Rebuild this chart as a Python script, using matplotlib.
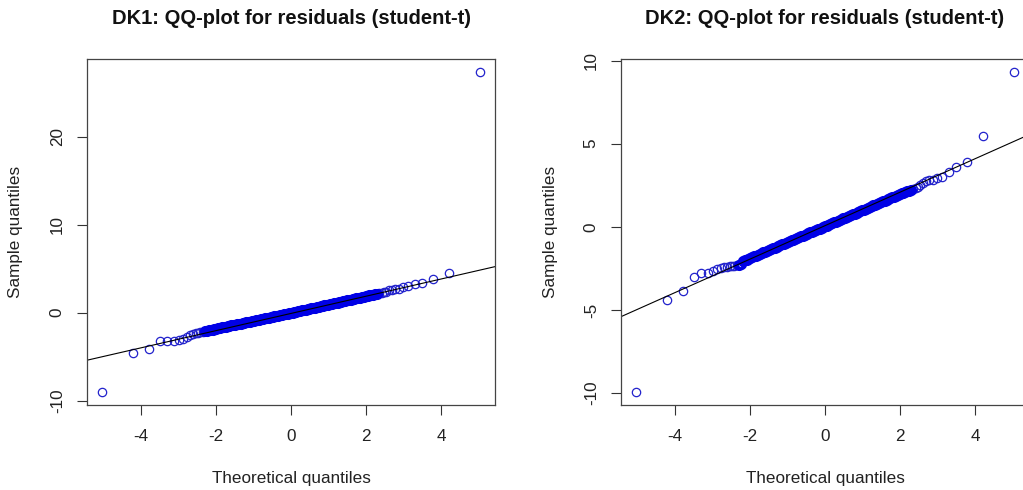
import numpy as np
import matplotlib
matplotlib.use("Agg")
import matplotlib.pyplot as plt

plt.rcParams['font.family'] = ['Liberation Sans', 'DejaVu Sans']
plt.rcParams['axes.unicode_minus'] = False

# theoretical quantiles (shared by both panels)
theo = [-5.03, -4.20, -3.78, -3.49, -3.29, -3.12, -2.99, -2.88, -2.78, -2.69,
        -2.61, -2.54, -2.47, -2.41, -2.35, -2.29, -2.24,
        -2.19, -2.14, -2.09, -2.04, -1.99, -1.94, -1.89, -1.84, -1.79, -1.74,
        -1.69, -1.64, -1.59, -1.54, -1.49, -1.44, -1.39, -1.34, -1.29, -1.24,
        -1.19, -1.14, -1.09, -1.04, -0.99, -0.94, -0.89, -0.84, -0.79, -0.74,
        -0.69, -0.64, -0.59, -0.54, -0.49, -0.44, -0.39, -0.34, -0.29, -0.24,
        -0.19, -0.14, -0.09, -0.04, 0.00,
        0.04, 0.09, 0.14, 0.19, 0.24, 0.29, 0.34, 0.39, 0.44, 0.49,
        0.54, 0.59, 0.64, 0.69, 0.74, 0.79, 0.84, 0.89, 0.94, 0.99,
        1.04, 1.09, 1.14, 1.19, 1.24, 1.29, 1.34, 1.39, 1.44, 1.49,
        1.54, 1.59, 1.64, 1.69, 1.74, 1.79, 1.84, 1.89, 1.94, 1.99,
        2.04, 2.09, 2.14, 2.19,
        2.24, 2.29, 2.35, 2.41, 2.47, 2.54, 2.61,
        2.69, 2.78, 2.88, 2.99, 3.12, 3.29, 3.49, 3.78, 4.20, 5.03]

# sample quantiles DK1
dk1 = [-9.05, -4.55, -4.17, -3.28, -3.24, -3.20, -3.07, -2.99, -2.80, -2.60,
       -2.42, -2.36, -2.30, -2.22, -2.17, -2.12, -2.07,
       -2.00, -1.96, -1.92, -1.86, -1.83, -1.77, -1.74, -1.68, -1.64, -1.60,
       -1.55, -1.51, -1.45, -1.42, -1.37, -1.33, -1.28, -1.24, -1.19, -1.15,
       -1.10, -1.06, -1.01, -0.97, -0.92, -0.88, -0.83, -0.79, -0.74, -0.70,
       -0.65, -0.61, -0.56, -0.52, -0.47, -0.43, -0.38, -0.34, -0.29, -0.25,
       -0.20, -0.16, -0.11, -0.07, -0.03,
       0.01, 0.06, 0.10, 0.15, 0.20, 0.25, 0.29, 0.34, 0.39, 0.44,
       0.48, 0.53, 0.58, 0.63, 0.67, 0.72, 0.77, 0.82, 0.86, 0.91,
       0.96, 1.01, 1.05, 1.10, 1.15, 1.20, 1.24, 1.29, 1.34, 1.39,
       1.43, 1.48, 1.53, 1.58, 1.62, 1.67, 1.72, 1.77, 1.81, 1.86,
       1.91, 1.96, 2.00, 2.05,
       2.09, 2.13, 2.18, 2.24, 2.30, 2.40, 2.52,
       2.58, 2.65, 2.72, 2.92, 3.07, 3.26, 3.37, 3.83, 4.51, 27.40]

# sample quantiles DK2
dk2 = [-9.94, -4.42, -3.84, -3.04, -2.80, -2.76, -2.64, -2.54, -2.50, -2.44,
       -2.40, -2.38, -2.36, -2.34, -2.31, -2.27, -2.21,
       -2.07, -2.02, -1.98, -1.93, -1.88, -1.83, -1.78, -1.74, -1.69, -1.64,
       -1.59, -1.54, -1.49, -1.45, -1.40, -1.35, -1.30, -1.25, -1.21, -1.16,
       -1.11, -1.06, -1.01, -0.96, -0.92, -0.87, -0.82, -0.77, -0.72, -0.67,
       -0.63, -0.58, -0.53, -0.48, -0.43, -0.38, -0.34, -0.29, -0.24, -0.19,
       -0.14, -0.10, -0.05, 0.00, 0.04,
       0.08, 0.13, 0.18, 0.22, 0.27, 0.32, 0.37, 0.42, 0.46, 0.51,
       0.56, 0.61, 0.66, 0.71, 0.75, 0.80, 0.85, 0.90, 0.95, 1.00,
       1.04, 1.09, 1.14, 1.19, 1.24, 1.29, 1.33, 1.38, 1.43, 1.48,
       1.53, 1.57, 1.62, 1.67, 1.72, 1.77, 1.82, 1.86, 1.91, 1.96,
       2.01, 2.06, 2.10, 2.15,
       2.18, 2.20, 2.26, 2.32, 2.40, 2.52, 2.66,
       2.76, 2.80, 2.83, 2.96, 3.02, 3.28, 3.58, 3.92, 5.46, 9.32]

# reference lines (intercept, slope)
line1 = (-0.09, 0.98)
line2 = (0.07, 1.007)

titles = ["DK1: QQ-plot for residuals (student-t)",
          "DK2: QQ-plot for residuals (student-t)"]
yticks = [[-10, 0, 10, 20], [-10, -5, 0, 5, 10]]
xticks = [-4, -2, 0, 2, 4]

W, H = 1023, 490
fig = plt.figure(figsize=(W / 100, H / 100), dpi=100)

panels = [(87, dk1, line1), (621, dk2, line2)]
for i, (left, samp, ln) in enumerate(panels):
    ax = fig.add_axes([left / W, (H - 405) / H, 408 / W, 346 / H])
    x = np.array(theo)
    y = np.array(samp)

    # the heavily overplotted middle looks like a solid band in the original
    dense = np.abs(x) < 2.3
    ax.plot(x[~dense], y[~dense], 'o', mfc='none', mec='#2222cc', mew=0.9,
            ms=6.0, ls='none')
    ax.plot(x[dense], y[dense], 'o', mfc='none', mec='#0000e6', mew=2.0,
            ms=6.0, ls='none')

    # R style 4% padding
    xr = x.max() - x.min()
    yr = y.max() - y.min()
    xlo, xhi = x.min() - 0.04 * xr, x.max() + 0.04 * xr
    ax.set_xlim(xlo, xhi)
    ax.set_ylim(y.min() - 0.04 * yr, y.max() + 0.04 * yr)

    xx = np.array([xlo, xhi])
    ax.plot(xx, ln[0] + ln[1] * xx, color='black', lw=0.8)

    ax.set_xticks(xticks)
    ax.set_yticks(yticks[i])
    ax.set_yticklabels([str(t) for t in yticks[i]], rotation=90, va='center')
    ax.tick_params(length=7, width=0.8, color='#333333', labelsize=12.3,
                   labelcolor='#222222')
    ax.tick_params(axis='x', pad=10)
    ax.tick_params(axis='y', pad=9)
    for s in ax.spines.values():
        s.set_color('#444444')
        s.set_linewidth(0.9)

    cx = (left + 204) / W
    fig.text(cx, 1 - 19 / H, titles[i], ha='center', va='center',
             fontsize=14.5, fontweight='bold', color='#111111')
    fig.text(cx, 1 - 478 / H, "Theoretical quantiles", ha='center',
             va='center', fontsize=12.3, color='#222222')
    fig.text((left - 71) / W, 1 - 232 / H, "Sample quantiles", rotation=90,
             ha='center', va='center', fontsize=12.3, color='#222222')

fig.savefig("out.png", dpi=100)
